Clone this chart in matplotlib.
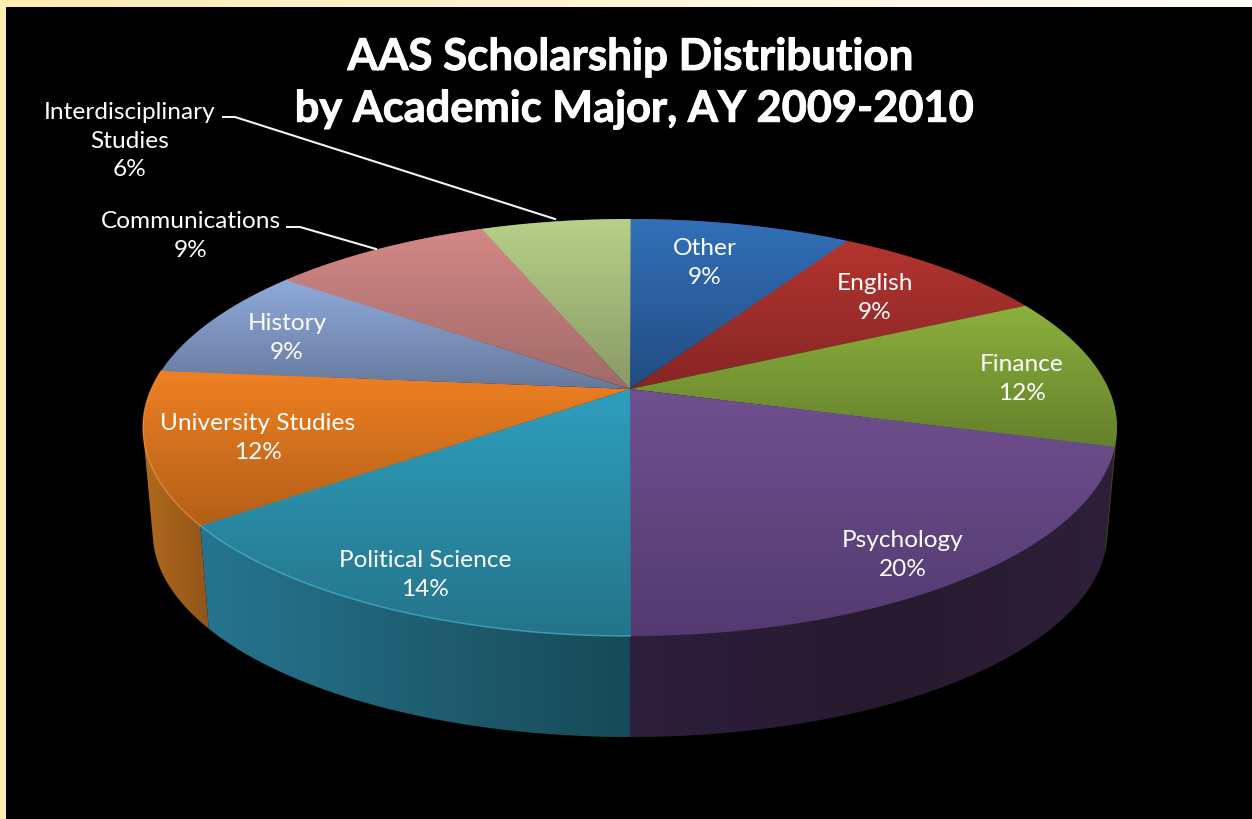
import numpy as np
from matplotlib import pyplot as plt
from matplotlib import patheffects
from matplotlib.colors import to_rgb
from matplotlib.patches import Polygon

plt.rcParams['font.family'] = ['Lato', 'DejaVu Sans']

# dados da figura
majors = ['Other', 'English', 'Finance', 'Psychology', 'Political Science',
          'University Studies', 'History', 'Communications', 'Interdisciplinary\nStudies']
counts = [3, 3, 4, 7, 5, 4, 3, 3, 2]
pct_labels = ['9%', '9%', '12%', '20%', '14%', '12%', '9%', '9%', '6%']

top_colors = ['#3270b9', '#b5342f', '#8cb03d', '#70508f', '#2e9fbe',
              '#f08022', '#8fabdc', '#d48886', '#b8d088']
bottom_colors = ['#224c82', '#852624', '#64802c', '#533a70', '#247489',
                 '#b25f18', '#66799c', '#a06a68', '#889a66']
wall_colors = [['#1c3a60', '#1c3a60'], ['#5a1c1a', '#5a1c1a'], ['#44581f', '#44581f'],
               ['#2e1f3c', '#261a30', '#2d2038'], ['#267590', '#1f5f72', '#174a58'],
               ['#b06a1c', '#93551a'], ['#4c5a74', '#4c5a74'], ['#7a5050', '#7a5050'],
               ['#66734c', '#66734c']]
rim_colors = [None, None, None, None, '#55bedc', '#f59a45', None, None, None]
label_pos = [(705, 263), (875, 298), (1022, 379), (903, 555), (425, 575),
             (258, 438), (287, 338), (191, 236), (130, 141)]

title_lines = ['AAS Scholarship Distribution', 'by Academic Major, AY 2009-2010']

# geometria da pizza em perspectiva (pixels)
cx, cy = 630, 389
rx, ry, k = 478.6, 201.4, 0.1847
vanish, shrink = 5686, 0.98


def rim(theta):
	den = 1 + k * np.cos(theta)
	return cx + rx * np.sin(theta) / den, cy - ry * np.cos(theta) / den


def lower(x, y):
	return cx + (x - cx) * shrink, vanish - (vanish - y) * shrink


def hull(pts):
	# envoltoria convexa, para a parede cobrir a tangente da borda
	pts = sorted(set(map(tuple, pts)))

	def half(seq):
		out = []
		for p in seq:
			while len(out) > 1 and ((out[-1][0] - out[-2][0]) * (p[1] - out[-2][1])
				- (out[-1][1] - out[-2][1]) * (p[0] - out[-2][0])) <= 0:
				out.pop()
			out.append(p)
		return out[:-1]

	return np.array(half(pts) + half(pts[::-1]))


def gradient(ax, pts, colors, horizontal=False, zorder=2):
	# preenche o poligono com um degrade recortado
	x0, x1 = pts[:, 0].min(), pts[:, 0].max()
	y0, y1 = pts[:, 1].min(), pts[:, 1].max()
	rgb = np.array([to_rgb(c) for c in colors])
	pos = np.linspace(0, 1, len(colors))
	t = np.linspace(0, 1, 256)
	ramp = np.stack([np.interp(t, pos, rgb[:, i]) for i in range(3)], axis=-1)
	img = ramp[None, :, :] if horizontal else ramp[:, None, :]
	im = ax.imshow(img, extent=(x0, x1, y1, y0), origin='upper', aspect='auto',
		zorder=zorder, interpolation='bilinear')
	patch = Polygon(pts, closed=True, transform=ax.transData, facecolor='none', edgecolor='none')
	ax.add_patch(patch)
	im.set_clip_path(patch)


fig = plt.figure(figsize=(12.52, 8.19), dpi=100, facecolor='black')
ax = fig.add_axes([0, 0, 1, 1])
ax.set_facecolor('black')

edges = np.concatenate([[0], np.cumsum(counts)]) / sum(counts) * 2 * np.pi

# paredes laterais, de tras para a frente
for i in [0, 8, 1, 7, 2, 6, 5, 3, 4]:
	t = np.linspace(edges[i], edges[i + 1], 120)
	x, y = rim(t)
	lx, ly = lower(x, y)
	pts = hull(np.column_stack([np.r_[x, lx], np.r_[y, ly]]))
	gradient(ax, pts, wall_colors[i], horizontal=True, zorder=2)

# fatias de cima
for i in range(len(counts)):
	t = np.linspace(edges[i] - 0.0015, edges[i + 1] + 0.0015, 120)
	x, y = rim(t)
	pts = np.column_stack([np.r_[cx, x], np.r_[cy, y]])
	gradient(ax, pts, [top_colors[i], bottom_colors[i]], zorder=3)
	if rim_colors[i]:
		ax.plot(x, y, color=rim_colors[i], lw=1.1, alpha=0.6, zorder=4, solid_capstyle='butt')

# faixa clara do slide
gradient(ax, np.array([[0, 0], [1252, 0], [1252, 7], [0, 7]]), ['#fdebb0', '#fff6d8', '#fffdf6'],
	horizontal=True, zorder=6)
gradient(ax, np.array([[0, 0], [5.5, 0], [5.5, 819], [0, 819]]), ['#feedb2', '#feedb2'], zorder=6)

ax.set_xlim(0, 1252)
ax.set_ylim(819, 0)
ax.axis('off')

# linhas de chamada
ax.plot([223, 235, 555], [117, 117, 219], color='#f2f2f2', lw=1.5, zorder=5)
ax.plot([287, 300, 376], [227, 227, 249], color='#f2f2f2', lw=1.5, zorder=5)

for name, pct, (px, py) in zip(majors, pct_labels, label_pos):
	ax.text(px, py, name + '\n' + pct, color='white', fontsize=17.6, ha='center', va='center',
		linespacing=1.46, zorder=7)

heavy = [patheffects.withStroke(linewidth=0.7, foreground='white')]
ax.text(630, 57, title_lines[0], color='white', fontsize=31.6, fontweight='bold',
	ha='center', va='center', zorder=7, path_effects=heavy)
ax.text(635, 109, title_lines[1], color='white', fontsize=31.2, fontweight='bold',
	ha='center', va='center', zorder=7, path_effects=heavy)

plt.savefig('out.png', dpi=100, facecolor='black')
